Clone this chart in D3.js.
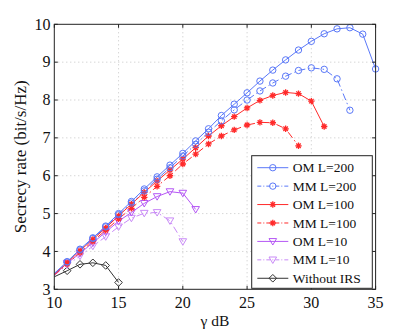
<!DOCTYPE html>
<html>
<head>
<meta charset="utf-8">
<script src="https://d3js.org/d3.v7.min.js"></script>
<style>
  body { margin: 0; background: #fff; }
</style>
</head>
<body>
<div id="chart"></div>
<script>
// gamma (dB) values and secrecy rates
const gammaOM200 = d3.range(10, 36);
const rateOM200 = [3.42, 3.73, 4.06, 4.36, 4.67, 5.00, 5.32, 5.65, 5.97, 6.28, 6.59, 6.92, 7.24,
                   7.59, 7.89, 8.19, 8.50, 8.79, 9.06, 9.32, 9.55, 9.75, 9.88, 9.91, 9.74, 8.82];
const gammaMM200 = d3.range(10, 34);
const rateMM200 = [3.41, 3.72, 4.04, 4.34, 4.65, 4.97, 5.28, 5.60, 5.91, 6.21, 6.52, 6.83, 7.15,
                   7.45, 7.74, 8.00, 8.24, 8.45, 8.63, 8.78, 8.85, 8.81, 8.56, 7.73];
const gammaOM100 = d3.range(10, 32);
const rateOM100 = [3.40, 3.70, 4.02, 4.32, 4.62, 4.94, 5.25, 5.56, 5.86, 6.15, 6.44, 6.74, 7.05,
                   7.32, 7.56, 7.79, 7.99, 8.12, 8.20, 8.17, 7.97, 7.30];
const gammaMM100 = d3.range(10, 30);
const rateMM100 = [3.38, 3.67, 3.97, 4.27, 4.56, 4.86, 5.14, 5.43, 5.72, 6.00, 6.31, 6.57, 6.84,
                   7.05, 7.21, 7.34, 7.41, 7.40, 7.24, 6.79];
const gammaOM10 = d3.range(10, 22);
const rateOM10 = [3.38, 3.69, 3.95, 4.23, 4.51, 4.80, 5.03, 5.27, 5.45, 5.58, 5.54, 5.11];
const gammaMM10 = d3.range(10, 21);
const rateMM10 = [3.37, 3.64, 3.88, 4.14, 4.39, 4.65, 4.88, 5.01, 5.03, 4.81, 4.26];
const gammaNoIRS = d3.range(10, 16);
const rateNoIRS = [3.33, 3.49, 3.66, 3.70, 3.63, 3.18];

const xTicks = [10, 15, 20, 25, 30, 35];
const yTicks = [3, 4, 5, 6, 7, 8, 9, 10];

const series = [
  {name: "OM L=200", x: gammaOM200, y: rateOM200, color: "#5a78f8", dash: null, marker: "circle"},
  {name: "MM L=200", x: gammaMM200, y: rateMM200, color: "#5a78f8", dash: "7,3,1.5,3", marker: "circle"},
  {name: "OM L=100", x: gammaOM100, y: rateOM100, color: "#ff2a2a", dash: null, marker: "star"},
  {name: "MM L=100", x: gammaMM100, y: rateMM100, color: "#ff2a2a", dash: "7,3,1.5,3", marker: "star"},
  {name: "OM L=10", x: gammaOM10, y: rateOM10, color: "#b557f5", dash: null, marker: "tri"},
  {name: "MM L=10", x: gammaMM10, y: rateMM10, color: "#c98af7", dash: "7,3,1.5,3", marker: "tri"},
  {name: "Without IRS", x: gammaNoIRS, y: rateNoIRS, color: "#333", dash: null, marker: "diamond"}
];

const width = 415, height = 330;
const pLeft = 54.3, pRight = 375.6, pTop = 24.3, pBottom = 289.3;
const serif = "'Liberation Serif', 'DejaVu Serif', serif";

const svg = d3.select("#chart").append("svg")
  .attr("width", width).attr("height", height)
  .attr("font-family", serif);

const x = d3.scaleLinear().domain([10, 35]).range([pLeft, pRight]);
const y = d3.scaleLinear().domain([3, 10]).range([pBottom, pTop]);

// grid
svg.append("g").selectAll("line").data(xTicks.slice(1, -1)).enter().append("line")
  .attr("x1", d => x(d)).attr("x2", d => x(d)).attr("y1", pTop).attr("y2", pBottom)
  .style("stroke", "#b8b8b8").style("stroke-width", 0.8).style("stroke-dasharray", "1,3");
svg.append("g").selectAll("line").data(yTicks.slice(1, -1)).enter().append("line")
  .attr("y1", d => y(d)).attr("y2", d => y(d)).attr("x1", pLeft).attr("x2", pRight)
  .style("stroke", "#b8b8b8").style("stroke-width", 0.8).style("stroke-dasharray", "1,3");

svg.append("clipPath").attr("id", "clip").append("rect")
  .attr("x", pLeft).attr("y", pTop).attr("width", pRight - pLeft).attr("height", pBottom - pTop);

function drawMarker(g, type, color, cx, cy) {
  if (type === "circle") {
    g.append("circle").attr("cx", cx).attr("cy", cy).attr("r", 3.2)
      .style("fill", "none").style("stroke", color).style("stroke-width", 1);
  } else if (type === "star") {
    const s = 3.2;
    const p = `M${cx - s},${cy}L${cx + s},${cy}M${cx},${cy - s}L${cx},${cy + s}` +
      `M${cx - s * 0.7},${cy - s * 0.7}L${cx + s * 0.7},${cy + s * 0.7}` +
      `M${cx - s * 0.7},${cy + s * 0.7}L${cx + s * 0.7},${cy - s * 0.7}`;
    g.append("path").attr("d", p).style("stroke", color).style("stroke-width", 1.3);
  } else if (type === "tri") {
    const s = 3.8;
    g.append("path").attr("d", `M${cx - s},${cy - s * 0.75}L${cx + s},${cy - s * 0.75}L${cx},${cy + s * 0.95}Z`)
      .style("fill", "none").style("stroke", color).style("stroke-width", 1);
  } else if (type === "diamond") {
    const s = 3.8;
    g.append("path").attr("d", `M${cx},${cy - s}L${cx + s},${cy}L${cx},${cy + s}L${cx - s},${cy}Z`)
      .style("fill", "none").style("stroke", color).style("stroke-width", 1);
  }
}

const line = d3.line().x(d => x(d[0])).y(d => y(d[1]));
const plot = svg.append("g").attr("clip-path", "url(#clip)");

// draw back to front so the top entries sit above
series.slice().reverse().forEach(s => {
  const pts = s.x.map((v, i) => [v, s.y[i]]);
  plot.append("path").datum(pts).attr("d", line)
    .style("fill", "none").style("stroke", s.color).style("stroke-width", 1)
    .style("stroke-dasharray", s.dash);
  const mg = svg.append("g");
  pts.filter(p => p[0] > 10).forEach(p => drawMarker(mg, s.marker, s.color, x(p[0]), y(p[1])));
});

// frame
svg.append("rect").attr("x", pLeft).attr("y", pTop).attr("width", pRight - pLeft).attr("height", pBottom - pTop)
  .style("fill", "none").style("stroke", "#222").style("stroke-width", 1);

// inward ticks on all four sides
const tk = 3.5;
xTicks.forEach(t => {
  svg.append("line").attr("x1", x(t)).attr("x2", x(t)).attr("y1", pBottom).attr("y2", pBottom - tk).style("stroke", "#222");
  svg.append("line").attr("x1", x(t)).attr("x2", x(t)).attr("y1", pTop).attr("y2", pTop + tk).style("stroke", "#222");
});
yTicks.forEach(t => {
  svg.append("line").attr("y1", y(t)).attr("y2", y(t)).attr("x1", pLeft).attr("x2", pLeft + tk).style("stroke", "#222");
  svg.append("line").attr("y1", y(t)).attr("y2", y(t)).attr("x1", pRight).attr("x2", pRight - tk).style("stroke", "#222");
});

// tick labels
svg.append("g").selectAll("text").data(xTicks).enter().append("text")
  .attr("x", d => x(d)).attr("y", 307.5).attr("text-anchor", "middle")
  .style("font-family", serif).style("font-size", "16px").style("fill", "#111").text(d => d);
svg.append("g").selectAll("text").data(yTicks).enter().append("text")
  .attr("x", 50.5).attr("y", d => y(d) + 5.2).attr("text-anchor", "end")
  .style("font-family", serif).style("font-size", "16px").style("fill", "#111").text(d => d);

// axis labels
svg.append("text").attr("x", (pLeft + pRight) / 2).attr("y", 326).attr("text-anchor", "middle")
  .style("font-family", serif).style("font-size", "15.5px").style("fill", "#111").text("\u03b3 dB");
svg.append("text").attr("transform", `translate(26,${(pTop + pBottom) / 2}) rotate(-90)`)
  .attr("text-anchor", "middle").style("font-family", serif).style("font-size", "17px").style("fill", "#111")
  .text("Secrecy rate (bit/s/Hz)");

// legend
const lg = svg.append("g");
lg.append("rect").attr("x", 251.7).attr("y", 155.7).attr("width", 120.6).attr("height", 132.6)
  .style("fill", "#fff").style("stroke", "#222").style("stroke-width", 1);
series.forEach((s, i) => {
  const ly = 167.7 + i * 18.43;
  lg.append("line").attr("x1", 257.3).attr("x2", 288.3).attr("y1", ly).attr("y2", ly)
    .style("stroke", s.color).style("stroke-width", 1).style("stroke-dasharray", s.dash ? "4,2,1,2" : null);
  drawMarker(lg, s.marker, s.color, 272.8, ly);
  lg.append("text").attr("x", 292.7).attr("y", ly + 4.6)
    .style("font-family", serif).style("font-size", "13.5px").style("fill", "#111").text(s.name);
});
</script>
</body>
</html>
